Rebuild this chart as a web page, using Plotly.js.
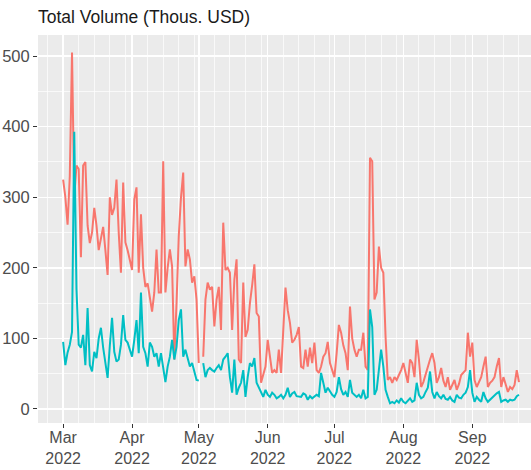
<!DOCTYPE html>
<html>
<head>
<meta charset="utf-8">
<script src="https://cdn.plot.ly/plotly-3.0.1.min.js"></script>
<style>
  html, body { margin: 0; padding: 0; background: #ffffff; }
  #chart { width: 531px; height: 470px; }
</style>
</head>
<body>
<div id="chart"></div>
<script>
// ---- data (daily values, first day 2022-03-01; null = missing day) ----
const startDate = "2022-03-01";

const seriesRed = [
  325, 300, 261, 330, 505, 300, 345, 340, 215, 345,
  350, 260, 235, 250, 285, 260, 225, 240, 258, 225,
  190, 300, 275, 285, 325, 250, 193, 321, 236, 225,
  212, 197, 297, 314, 193, 276, 200, 173, 178, 155,
  138, 165, 226, 165, 165, 351, 165, 200, 226, 202,
  70, 150, 245, 300, 335, 202, 226, 212, 179, 188,
  155, 65, null, 74, 155, 179, 169, 173, 117, 155,
  173, 112, 264, 197, 200, 193, 112, 183, 212, 70,
  65, 179, 102, 112, 150, 175, 205, 136, 131, 37,
  50, 60, 98, 74, 51, 55, 51, 84, 51, 112,
  172, 140, 122, 94, 98, 105, 116, 60, 58, 84,
  60, 87, 65, 94, 55, 51, 60, 74, 79, 95,
  65, 55, 45, 79, 119, 108, 90, 79, 55, 145,
  100, 84, 74, 84, 84, 108, 60, 55, 356, 351,
  155, 165, 230, 200, 193, 102, 41, 45, 37, 45,
  41, 48, 55, 65, 51, 37, 70, 65, 45, 98,
  70, 31, 38, 50, 60, 70, 79, 65, 37, 45,
  58, 40, 31, 45, 27, 35, 41, 27, 35, 48,
  52, 55, 108, 74, 94, 41, 31, 38, 45, 60,
  74, 31, 37, 40, 45, 60, 72, 31, 45, 35,
  24, 31, 28, 34, 55, 38
];

const seriesTeal = [
  95, 62, 80, 91, 109, 393, 170, 91, 87, 105,
  62, 143, 62, 53, 81, 72, 100, 115, 87, 67,
  44, 90, 129, 81, 67, 70, 91, 133, 98, 94,
  85, 74, 98, 126, 79, 165, 88, 79, 60, 94,
  88, 74, 79, 60, 79, 55, 38, 60, 74, 98,
  70, 88, 126, 141, 74, 84, 70, 60, 65, 51,
  41, 40, null, 65, 45, 55, 58, 55, 53, 58,
  62, 55, 70, 74, 79, 45, 23, 70, 20, 30,
  37, 55, 17, 45, 65, 60, 72, 37, 31, 25,
  17, 27, 20, 17, 23, 20, 15, 17, 20, 15,
  20, 30, 17, 22, 24, 18, 17, 17, 22, 20,
  13, 18, 15, 17, 20, 18, 51, 37, 23, 30,
  24, 20, 17, 24, 45, 28, 20, 24, 17, 41,
  23, 20, 17, 20, 15, 27, 15, 17, 141, 116,
  20, 27, 55, 84, 60, 27, 17, 8, 10, 8,
  12, 9, 15, 10, 8, 12, 15, 10, 12, 37,
  20, 15, 17, 24, 30, 53, 24, 15, 24, 18,
  15, 20, 14, 13, 17, 12, 10, 20, 16, 15,
  20, 23, 31, 55, 23, 10, 17, 13, 10, 24,
  15, 10, 13, 16, 20, 22, 24, 10, 12, 13,
  10, 13, 12, 13, 18, 20
];

const tickDates  = ["2022-03-01", "2022-04-01", "2022-05-01", "2022-06-01", "2022-07-01", "2022-08-01", "2022-09-01"];
const tickLabels = ["Mar<br>2022", "Apr<br>2022", "May<br>2022", "Jun<br>2022", "Jul<br>2022", "Aug<br>2022", "Sep<br>2022"];
const minorDates = ["2022-02-22",
  "2022-03-08", "2022-03-15", "2022-03-22", "2022-03-29",
  "2022-04-08", "2022-04-15", "2022-04-22", "2022-04-29",
  "2022-05-08", "2022-05-15", "2022-05-22", "2022-05-29",
  "2022-06-08", "2022-06-15", "2022-06-22", "2022-06-29",
  "2022-07-08", "2022-07-15", "2022-07-22", "2022-07-29",
  "2022-08-08", "2022-08-15", "2022-08-22", "2022-08-29",
  "2022-09-08", "2022-09-15", "2022-09-22"];
const yTicks = [0, 100, 200, 300, 400, 500];
const titleText = "Total Volume (Thous. USD)";

// ---- build date axis values ----
const DAY = 86400000;
const t0 = Date.parse(startDate + "T00:00:00Z");
function iso(ms) { return new Date(ms).toISOString().slice(0, 19).replace("T", " "); }
const dates = seriesRed.map((_, i) => iso(t0 + i * DAY));

const font = "Liberation Sans, Arial, sans-serif";
const traces = [
  { x: dates, y: seriesRed, type: "scatter", mode: "lines",
    line: { color: "#F8766D", width: 2 }, connectgaps: false, hoverinfo: "skip" },
  { x: dates, y: seriesTeal, type: "scatter", mode: "lines",
    line: { color: "#00BFC4", width: 2 }, connectgaps: false, hoverinfo: "skip" }
];

const layout = {
  width: 531, height: 470,
  margin: { l: 38, r: 0, t: 35, b: 47 },
  paper_bgcolor: "#ffffff",
  plot_bgcolor: "#EBEBEB",
  showlegend: false,
  font: { family: font, color: "#4D4D4D", size: 16 },
  title: { text: titleText, font: { family: font, size: 17.5, color: "#1a1a1a" },
           xref: "paper", x: 0, xanchor: "left", yref: "container", y: 1 - 17 / 470, yanchor: "middle" },
  xaxis: {
    type: "date",
    range: [iso(t0 - 11.3 * DAY), iso(t0 + 210.4 * DAY)],
    tickmode: "array", tickvals: tickDates, ticktext: tickLabels,
    ticks: "outside", ticklen: 4, tickwidth: 1.1, tickcolor: "#333333",
    ticklabelstandoff: -4,
    tickfont: { family: font, size: 16, color: "#4D4D4D" },
    showgrid: true, gridcolor: "#ffffff", gridwidth: 1.5,
    minor: { tickmode: "array", tickvals: minorDates, showgrid: true, gridcolor: "#ffffff", gridwidth: 0.7, ticks: "" },
    zeroline: false, showline: false, fixedrange: true
  },
  yaxis: {
    range: [-20, 530],
    tickmode: "array", tickvals: yTicks,
    ticks: "outside", ticklen: 4, tickwidth: 1.1, tickcolor: "#333333",
    tickfont: { family: font, size: 16.5, color: "#4D4D4D" },
    showgrid: true, gridcolor: "#ffffff", gridwidth: 1.5,
    minor: { dtick: 50, tick0: 50, showgrid: true, gridcolor: "#ffffff", gridwidth: 0.7, ticks: "" },
    zeroline: false, showline: false, fixedrange: true
  }
};

Plotly.newPlot("chart", traces, layout, { displayModeBar: false, staticPlot: true });
</script>
</body>
</html>
